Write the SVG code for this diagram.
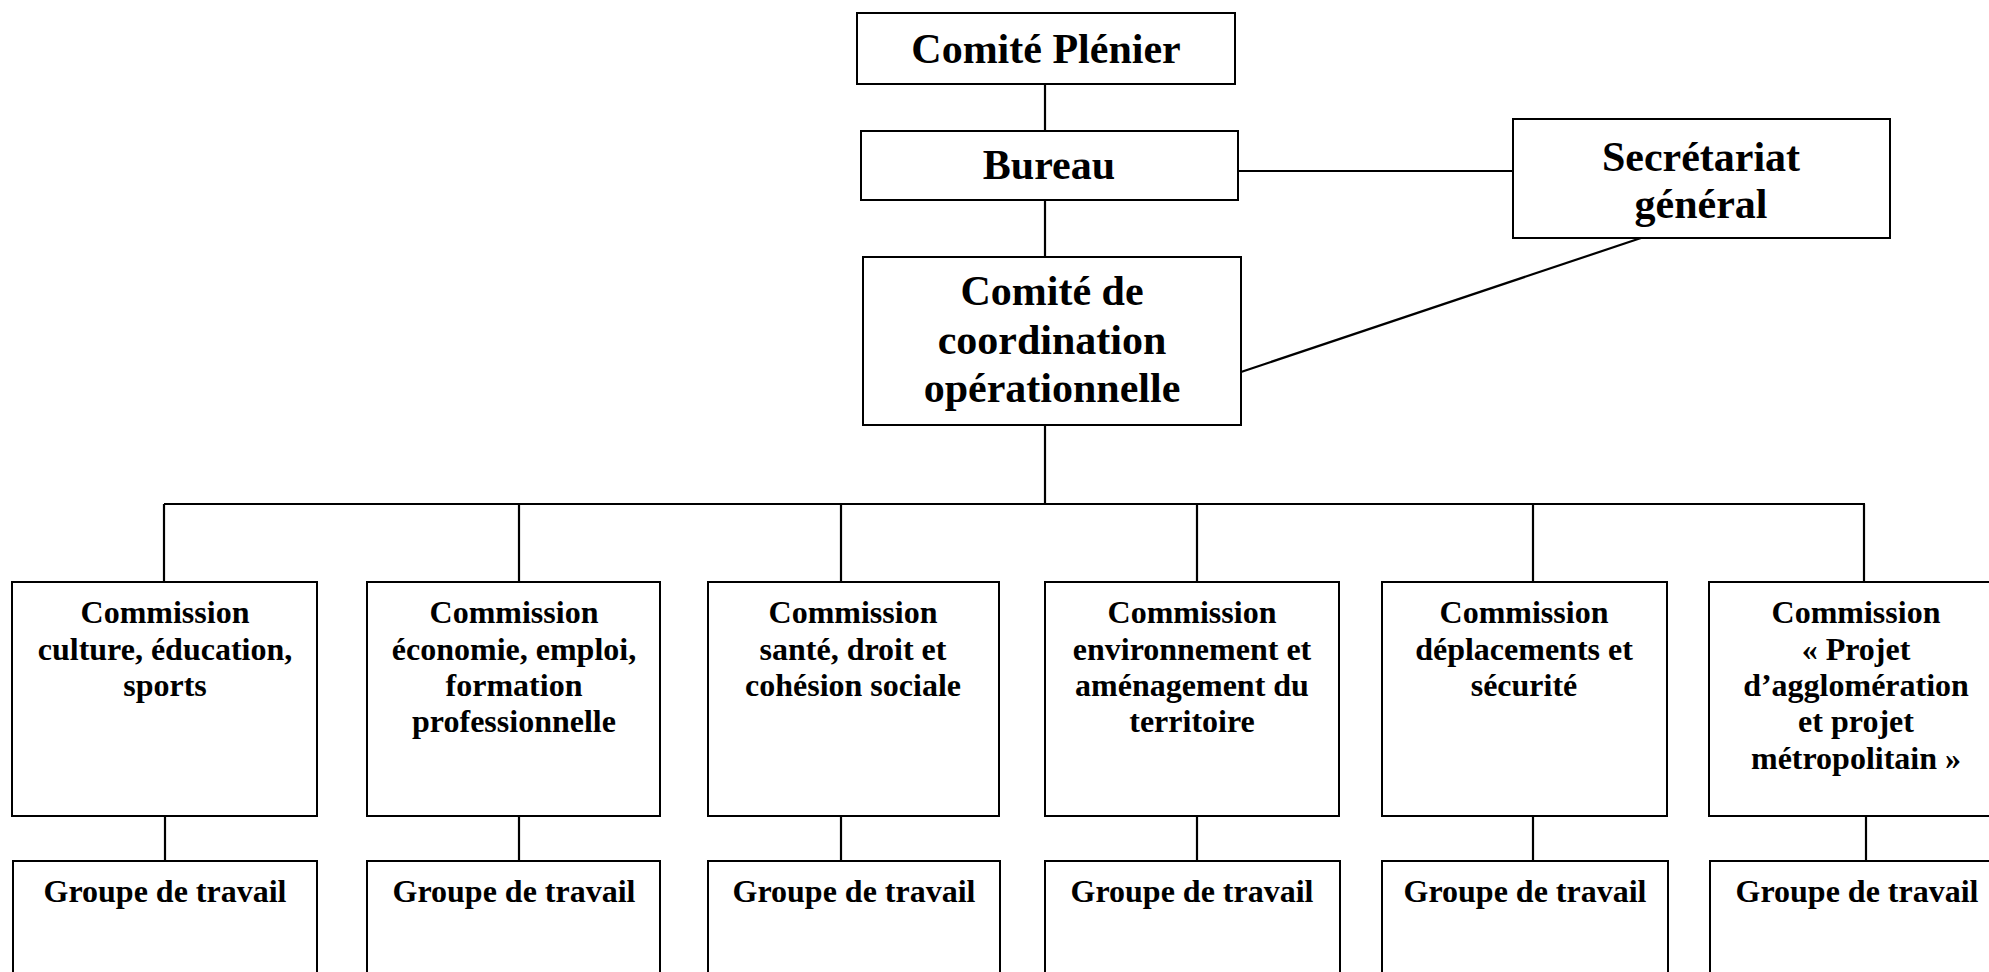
<svg xmlns="http://www.w3.org/2000/svg" width="1989" height="972" viewBox="0 0 1989 972">
<style>
.box{fill:#fff;stroke:#000;stroke-width:2}
.ln{stroke:#000;stroke-width:2.2;fill:none}
.t{font-family:"Liberation Serif","Times New Roman",serif;font-weight:bold;fill:#000;text-anchor:middle}
.big{font-size:42px}
.sm{font-size:32px}
</style>
<rect width="1989" height="972" fill="#fff"/>
<g id="connectors">
<line class="ln" x1="1045" y1="84" x2="1045" y2="131"/>
<line class="ln" x1="1045" y1="200" x2="1045" y2="257"/>
<line class="ln" x1="1238" y1="171" x2="1513" y2="171"/>
<line class="ln" x1="1241" y1="372" x2="1641" y2="238"/>
<line class="ln" x1="1045" y1="425" x2="1045" y2="504"/>
<line class="ln" x1="164" y1="504" x2="1865" y2="504"/>
<line class="ln" x1="164" y1="504" x2="164" y2="582"/>
<line class="ln" x1="519" y1="504" x2="519" y2="582"/>
<line class="ln" x1="841" y1="504" x2="841" y2="582"/>
<line class="ln" x1="1197" y1="504" x2="1197" y2="582"/>
<line class="ln" x1="1533" y1="504" x2="1533" y2="582"/>
<line class="ln" x1="1864" y1="504" x2="1864" y2="582"/>
<line class="ln" x1="165" y1="816" x2="165" y2="861"/>
<line class="ln" x1="519" y1="816" x2="519" y2="861"/>
<line class="ln" x1="841" y1="816" x2="841" y2="861"/>
<line class="ln" x1="1197" y1="816" x2="1197" y2="861"/>
<line class="ln" x1="1533" y1="816" x2="1533" y2="861"/>
<line class="ln" x1="1866" y1="816" x2="1866" y2="861"/>
</g>
<g id="comite-plenier">
<rect class="box" x="857" y="13" width="378" height="71"/>
<text class="t big" x="1046" y="63">Comité Plénier</text>
</g>
<g id="bureau">
<rect class="box" x="861" y="131" width="377" height="69"/>
<text class="t big" x="1049" y="179">Bureau</text>
</g>
<g id="secretariat">
<rect class="box" x="1513" y="119" width="377" height="119"/>
<text class="t big" x="1701" y="171">Secrétariat</text>
<text class="t big" x="1701" y="218">général</text>
</g>
<g id="comite-coordination">
<rect class="box" x="863" y="257" width="378" height="168"/>
<text class="t big" x="1052" y="305">Comité de</text>
<text class="t big" x="1052" y="354">coordination</text>
<text class="t big" x="1052" y="402">opérationnelle</text>
</g>
<g id="commission-culture">
<rect class="box" x="12" y="582" width="305" height="234"/>
<text class="t sm" x="165" y="623">Commission</text>
<text class="t sm" x="165" y="660">culture, éducation,</text>
<text class="t sm" x="165" y="696">sports</text>
</g>
<g id="commission-economie">
<rect class="box" x="367" y="582" width="293" height="234"/>
<text class="t sm" x="514" y="623">Commission</text>
<text class="t sm" x="514" y="660">économie, emploi,</text>
<text class="t sm" x="514" y="696">formation</text>
<text class="t sm" x="514" y="732">professionnelle</text>
</g>
<g id="commission-sante">
<rect class="box" x="708" y="582" width="291" height="234"/>
<text class="t sm" x="853" y="623">Commission</text>
<text class="t sm" x="853" y="660">santé, droit et</text>
<text class="t sm" x="853" y="696">cohésion sociale</text>
</g>
<g id="commission-environnement">
<rect class="box" x="1045" y="582" width="294" height="234"/>
<text class="t sm" x="1192" y="623">Commission</text>
<text class="t sm" x="1192" y="660">environnement et</text>
<text class="t sm" x="1192" y="696">aménagement du</text>
<text class="t sm" x="1192" y="732">territoire</text>
</g>
<g id="commission-deplacements">
<rect class="box" x="1382" y="582" width="285" height="234"/>
<text class="t sm" x="1524" y="623">Commission</text>
<text class="t sm" x="1524" y="660">déplacements et</text>
<text class="t sm" x="1524" y="696">sécurité</text>
</g>
<g id="commission-projet">
<rect class="box" x="1709" y="582" width="294" height="234"/>
<text class="t sm" x="1856" y="623">Commission</text>
<text class="t sm" x="1856" y="660">« Projet</text>
<text class="t sm" x="1856" y="696">d’agglomération</text>
<text class="t sm" x="1856" y="732">et projet</text>
<text class="t sm" x="1856" y="769">métropolitain »</text>
</g>
<g id="groupe-1">
<rect class="box" x="13" y="861" width="304" height="140"/>
<text class="t sm" x="165" y="902">Groupe de travail</text>
</g>
<g id="groupe-2">
<rect class="box" x="367" y="861" width="293" height="140"/>
<text class="t sm" x="514" y="902">Groupe de travail</text>
</g>
<g id="groupe-3">
<rect class="box" x="708" y="861" width="292" height="140"/>
<text class="t sm" x="854" y="902">Groupe de travail</text>
</g>
<g id="groupe-4">
<rect class="box" x="1045" y="861" width="295" height="140"/>
<text class="t sm" x="1192" y="902">Groupe de travail</text>
</g>
<g id="groupe-5">
<rect class="box" x="1382" y="861" width="286" height="140"/>
<text class="t sm" x="1525" y="902">Groupe de travail</text>
</g>
<g id="groupe-6">
<rect class="box" x="1710" y="861" width="294" height="140"/>
<text class="t sm" x="1857" y="902">Groupe de travail</text>
</g>
</svg>
